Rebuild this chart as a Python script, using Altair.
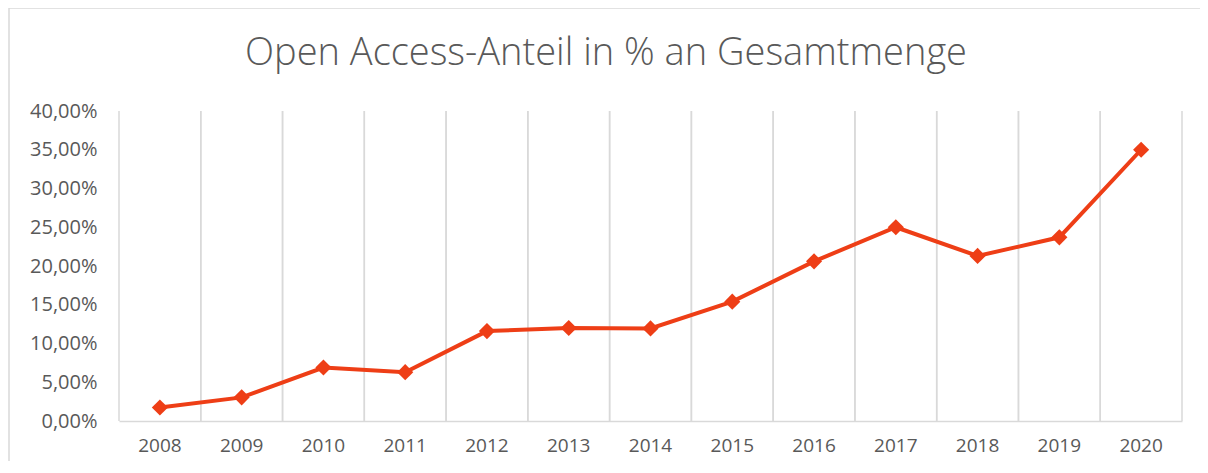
import altair as alt
import pandas as pd

years = ["2008", "2009", "2010", "2011", "2012", "2013", "2014",
         "2015", "2016", "2017", "2018", "2019", "2020"]
shares = [1.75, 3.05, 6.9, 6.3, 11.6, 12.0, 11.95, 15.4, 20.6, 25.0, 21.3, 23.7, 35.0]

title_text = "Open Access-Anteil in % an Gesamtmenge"

df = pd.DataFrame({"year": years, "share": shares})

W, H = 1063, 310
GRID = "#d9d9d9"
TXT = "#595959"
RED = "#EE3E16"

xscale = alt.Scale(type="band", paddingInner=0, paddingOuter=0, domain=years)
yscale = alt.Scale(domain=[0, 40], nice=False)

xaxis = alt.Axis(
    title=None, labelAngle=0, ticks=False, domain=True, domainColor=GRID,
    domainWidth=1.5, labelColor=TXT, labelFont="Open Sans", labelFontSize=19,
    labelPadding=15, grid=False, labelOverlap=False,
)
yaxis = alt.Axis(
    title=None, values=list(range(0, 41, 5)), ticks=False, domain=False, grid=False,
    labelColor=TXT, labelFont="Open Sans", labelFontSize=20, labelPadding=22,
    labelOverlap=False,
    labelExpr="replace(format(datum.value, '.2f'), '.', ',') + '%'",
)

base = alt.Chart(df)
one = base.transform_filter(alt.datum.year == "2008")

border = one.mark_rect(fill="transparent", stroke=GRID, strokeWidth=1.5).encode(
    x=alt.value(-110), x2=alt.value(1300), y=alt.value(-103), y2=alt.value(600)
)

title = one.mark_text(
    font="Open Sans", fontSize=38, fontWeight=300, color=TXT, align="center",
    baseline="middle"
).encode(x=alt.value(487), y=alt.value(-57), text=alt.value(title_text))

grid_left = base.mark_rule(color=GRID, strokeWidth=1.5).encode(
    x=alt.X("year:O", scale=xscale, bandPosition=0, axis=xaxis),
    y=alt.datum(0, scale=yscale, axis=yaxis), y2=alt.datum(40),
)
grid_right = base.mark_rule(color=GRID, strokeWidth=1.5).encode(
    x=alt.X("year:O", scale=xscale, bandPosition=1, axis=xaxis),
    y=alt.datum(0, scale=yscale, axis=yaxis), y2=alt.datum(40),
)

line = base.mark_line(color=RED, strokeWidth=4).encode(
    x=alt.X("year:O", scale=xscale, bandPosition=0.5, axis=xaxis),
    y=alt.Y("share:Q", scale=yscale, axis=yaxis),
)
points = base.mark_point(shape="diamond", filled=True, color=RED, size=260, opacity=1).encode(
    x=alt.X("year:O", scale=xscale, bandPosition=0.5, axis=xaxis),
    y=alt.Y("share:Q", scale=yscale, axis=yaxis),
)

chart = alt.layer(border, title, grid_left, grid_right, line, points).properties(
    width=W, height=H,
    autosize=alt.AutoSizeParams(type="none"),
    padding={"left": 111, "top": 103, "right": 18, "bottom": 40},
).configure(background="white", view=alt.ViewConfig(stroke=None))

chart.save("out.html", embed_options={"renderer": "svg", "actions": False})
